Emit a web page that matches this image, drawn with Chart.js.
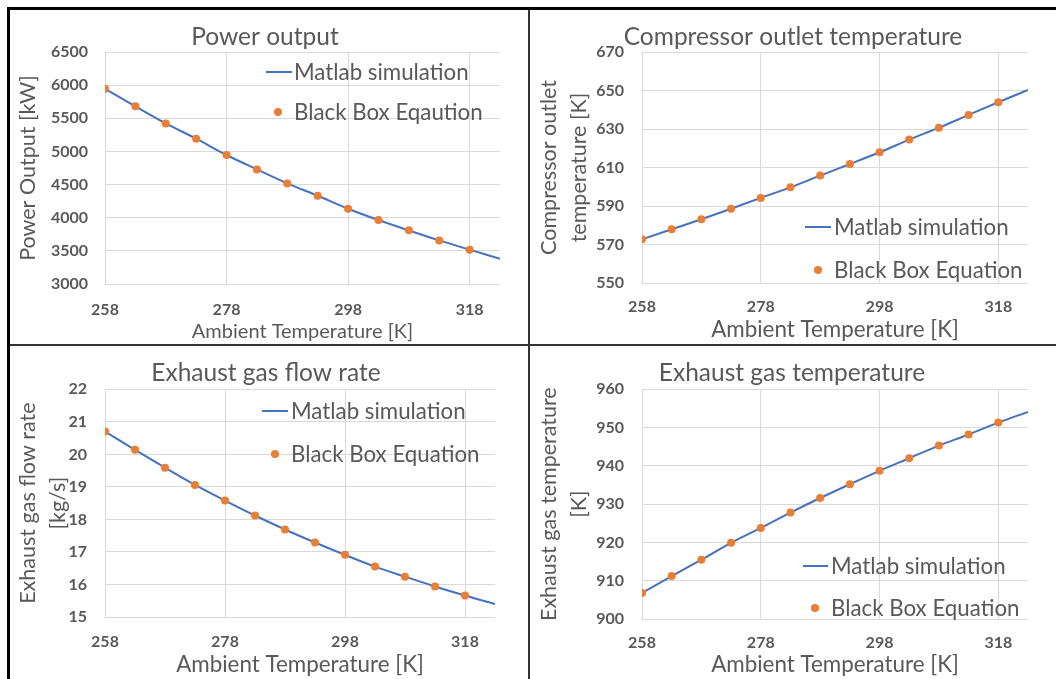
<!DOCTYPE html>
<html>
<head>
<meta charset="utf-8">
<script src="https://cdn.jsdelivr.net/npm/chart.js@4.4.1/dist/chart.umd.min.js"></script>
<style>
  html, body { margin: 0; padding: 0; background: #ffffff; }
  body { width: 1056px; height: 679px; position: relative; overflow: hidden; font-family: Lato, "Open Sans", sans-serif; }
  .cv { position: absolute; }
  .rule { position: absolute; }
  .legline { position: absolute; height: 2px; background: #4472C4; }
  .legdot { position: absolute; width: 8px; height: 8px; border-radius: 50%; background: #ED7D31; }
  .legtext { position: absolute; font-family: Lato, sans-serif; font-size: 22.3px; line-height: 1.2; color: #595959; white-space: nowrap; transform: translateY(-50%); }
</style>
</head>
<body>
<div class="rule" style="left:7px;top:7px;width:3px;height:672px;background:#000;"></div>
<div class="rule" style="left:7px;top:7px;width:1049px;height:3px;background:#000;"></div>
<div class="rule" style="left:528px;top:10px;width:2px;height:669px;background:#333;"></div>
<div class="rule" style="left:10px;top:344px;width:1046px;height:2px;background:#333;"></div>

<canvas id="c1" class="cv" width="510" height="334" style="left:10px;top:10px;width:510px;height:334px;"></canvas>
<canvas id="c2" class="cv" width="524" height="334" style="left:531px;top:10px;width:524px;height:334px;"></canvas>
<canvas id="c3" class="cv" width="512" height="332" style="left:10px;top:347px;width:512px;height:332px;"></canvas>
<canvas id="c4" class="cv" width="522" height="332" style="left:531px;top:347px;width:522px;height:332px;"></canvas>

<script>
// ---------- data ----------
const ambientTemps = [258, 263, 268, 273, 278, 283, 288, 293, 298, 303, 308, 313, 318];
const simTemps     = [258, 263, 268, 273, 278, 283, 288, 293, 298, 303, 308, 313, 318, 323];
const xTickValues  = [258, 278, 298, 318];

const powerSim = [5945, 5680, 5423, 5192, 4946, 4729, 4518, 4332, 4136, 3965, 3809, 3658, 3518, 3382];
const powerBB  = [5945, 5680, 5423, 5192, 4946, 4729, 4518, 4332, 4136, 3965, 3809, 3658, 3518];
const powerTicks = [3000, 3500, 4000, 4500, 5000, 5500, 6000, 6500];

const compSim = [572.7, 577.9, 583.1, 588.6, 594.2, 599.7, 605.8, 611.8, 617.9, 624.5, 630.7, 637.3, 643.9, 650.3];
const compBB  = [572.7, 577.9, 583.1, 588.6, 594.2, 599.7, 605.8, 611.8, 617.9, 624.5, 630.7, 637.3, 643.9];
const compTicks = [550, 570, 590, 610, 630, 650, 670];

const flowSim = [20.70, 20.14, 19.59, 19.06, 18.58, 18.12, 17.69, 17.29, 16.91, 16.55, 16.24, 15.94, 15.66, 15.40];
const flowBB  = [20.70, 20.14, 19.59, 19.06, 18.58, 18.12, 17.69, 17.29, 16.91, 16.55, 16.24, 15.94, 15.66];
const flowTicks = [15, 16, 17, 18, 19, 20, 21, 22];

const exhSim = [906.8, 911.2, 915.5, 919.9, 923.8, 927.8, 931.6, 935.2, 938.7, 942.0, 945.3, 948.2, 951.3, 954.1];
const exhBB  = [906.8, 911.2, 915.5, 919.9, 923.8, 927.8, 931.6, 935.2, 938.7, 942.0, 945.3, 948.2, 951.3];
const exhTicks = [900, 910, 920, 930, 940, 950, 960];

const simName = 'Matlab simulation';
const bbName1 = 'Black Box Eqaution';
const bbName  = 'Black Box Equation';
const xTitle  = 'Ambient Temperature [K]';

// ---------- styles ----------
const GRID = '#D9D9D9';
const TEXT = '#595959';
const BLUE = '#4472C4';
const ORANGE = '#ED7D31';
const FONT = 'Lato, "Open Sans", sans-serif';
const TICK_SIZE = 16;
const YTITLE_SIZE = 21.5;

function pts(xs, ys) { return ys.map((y, i) => ({ x: xs[i], y: y })); }

function makeChart(id, p) {
  const ctx = document.getElementById(id);
  return new Chart(ctx, {
    type: 'scatter',
    data: {
      datasets: [
        { label: p.bbLabel, data: pts(ambientTemps, p.bb), showLine: false,
          pointRadius: 4, pointHoverRadius: 4, pointBackgroundColor: ORANGE, pointBorderWidth: 0,
          backgroundColor: ORANGE, borderColor: ORANGE, order: 0 },
        { label: simName, data: pts(simTemps, p.sim), showLine: true,
          pointRadius: 0, pointHoverRadius: 0, borderColor: BLUE, backgroundColor: BLUE,
          borderWidth: 2, cubicInterpolationMode: 'monotone', fill: false, order: 1 }
      ]
    },
    options: {
      responsive: false,
      devicePixelRatio: 1,
      animation: false,
      events: [],
      layout: { padding: 0 },
      plugins: {
        legend: { display: false },
        tooltip: { enabled: false },
        title: { display: true, text: p.title, color: TEXT,
                 font: { family: FONT, size: 24.5, weight: 'normal', lineHeight: 1.2 },
                 padding: { top: p.titleTop, bottom: p.titleBottom } }
      },
      scales: {
        x: {
          type: 'linear', min: 258, max: 323,
          afterBuildTicks: s => { s.ticks = xTickValues.map(v => ({ value: v })); },
          afterFit: s => { s.height = p.xHeight; s.paddingRight = p.padRight; },
          grid: { color: GRID, lineWidth: 1, drawTicks: false },
          border: { display: false },
          ticks: { padding: p.xTickPad, color: TEXT, maxRotation: 0,
                   font: { family: FONT, size: TICK_SIZE, weight: 'bold' },
                   callback: v => String(v) },
          title: { display: true, text: xTitle, color: TEXT,
                   font: { family: FONT, size: p.xTitleSize },
                   padding: { top: 0, bottom: p.xTitlePad } }
        },
        y: {
          type: 'linear', min: p.yTicks[0], max: p.yTicks[p.yTicks.length - 1],
          afterBuildTicks: s => { s.ticks = p.yTicks.map(v => ({ value: v })); },
          afterFit: s => { s.width = p.yWidth; },
          grid: { color: GRID, lineWidth: 1, drawTicks: false },
          border: { display: false },
          ticks: { padding: p.yTickPad, color: TEXT,
                   font: { family: FONT, size: TICK_SIZE, weight: 'bold' },
                   callback: v => String(v) },
          title: { display: true, text: p.yTitle, color: TEXT,
                   font: { family: FONT, size: YTITLE_SIZE, lineHeight: p.yTitleLH },
                   padding: { top: p.yTitlePad, bottom: 0 } }
        }
      }
    }
  });
}

function addLegend(l) {
  const b = document.body;
  const line = document.createElement('div');
  line.className = 'legline';
  line.style.left = l.lineX1 + 'px';
  line.style.width = (l.lineX2 - l.lineX1) + 'px';
  line.style.top = (l.lineY - 1) + 'px';
  b.appendChild(line);
  const t1 = document.createElement('div');
  t1.className = 'legtext';
  t1.style.left = l.textX + 'px';
  t1.style.top = l.lineY + 'px';
  t1.textContent = simName;
  b.appendChild(t1);
  const dot = document.createElement('div');
  dot.className = 'legdot';
  dot.style.left = (l.dotX - 4) + 'px';
  dot.style.top = (l.dotY - 4) + 'px';
  b.appendChild(dot);
  const t2 = document.createElement('div');
  t2.className = 'legtext';
  t2.style.left = l.textX + 'px';
  t2.style.top = l.dotY + 'px';
  t2.textContent = l.bbLabel;
  b.appendChild(t2);
}

function build() {
  const LH2 = 30 / YTITLE_SIZE;
  makeChart('c1', { title: 'Power output', sim: powerSim, bb: powerBB, bbLabel: bbName1,
    yTicks: powerTicks, yTitle: 'Power Output [kW]', yTitleLH: 1.2, yTitlePad: 5.1,
    padRight: 20, titleTop: 12.3, titleBottom: 0.3, yWidth: 95, yTickPad: 17,
    xHeight: 60, xTickPad: 16.4, xTitleSize: 20, xTitlePad: 0 });
  makeChart('c2', { title: 'Compressor outlet temperature', sim: compSim, bb: compBB, bbLabel: bbName,
    yTicks: compTicks, yTitle: ['Compressor outlet', 'temperature [K]'], yTitleLH: LH2, yTitlePad: 3,
    padRight: 27, titleTop: 12.3, titleBottom: 0.3, yWidth: 111, yTickPad: 18,
    xHeight: 61, xTickPad: 14.4, xTitleSize: 22.4, xTitlePad: 0.6 });
  makeChart('c3', { title: 'Exhaust gas flow rate', sim: flowSim, bb: flowBB, bbLabel: bbName,
    yTicks: flowTicks, yTitle: ['Exhaust gas flow rate', '[kg/s]'], yTitleLH: LH2, yTitlePad: 3,
    padRight: 27, titleTop: 11.6, titleBottom: 1.3, yWidth: 95, yTickPad: 18,
    xHeight: 62, xTickPad: 15.1, xTitleSize: 22.4, xTitlePad: 0.6 });
  makeChart('c4', { title: 'Exhaust gas temperature', sim: exhSim, bb: exhBB, bbLabel: bbName,
    yTicks: exhTicks, yTitle: ['Exhaust gas temperature', '[K]'], yTitleLH: LH2, yTitlePad: 3,
    padRight: 25, titleTop: 11.6, titleBottom: 1.3, yWidth: 111, yTickPad: 18,
    xHeight: 60, xTickPad: 14.1, xTitleSize: 22.4, xTitlePad: 0.6 });

  addLegend({ lineX1: 266, lineX2: 292, lineY: 72, textX: 294, dotX: 278, dotY: 112, bbLabel: bbName1 });
  addLegend({ lineX1: 805, lineX2: 831, lineY: 227, textX: 834, dotX: 818, dotY: 270, bbLabel: bbName });
  addLegend({ lineX1: 262, lineX2: 288, lineY: 411, textX: 291, dotX: 275, dotY: 454, bbLabel: bbName });
  addLegend({ lineX1: 803, lineX2: 828, lineY: 566, textX: 831, dotX: 815, dotY: 608, bbLabel: bbName });
}

if (document.fonts && document.fonts.load) {
  Promise.all([
    document.fonts.load('16px Lato'), document.fonts.load('bold 16px Lato'),
    document.fonts.load('22px Lato')
  ]).then(build, build);
} else {
  build();
}
</script>
</body>
</html>
